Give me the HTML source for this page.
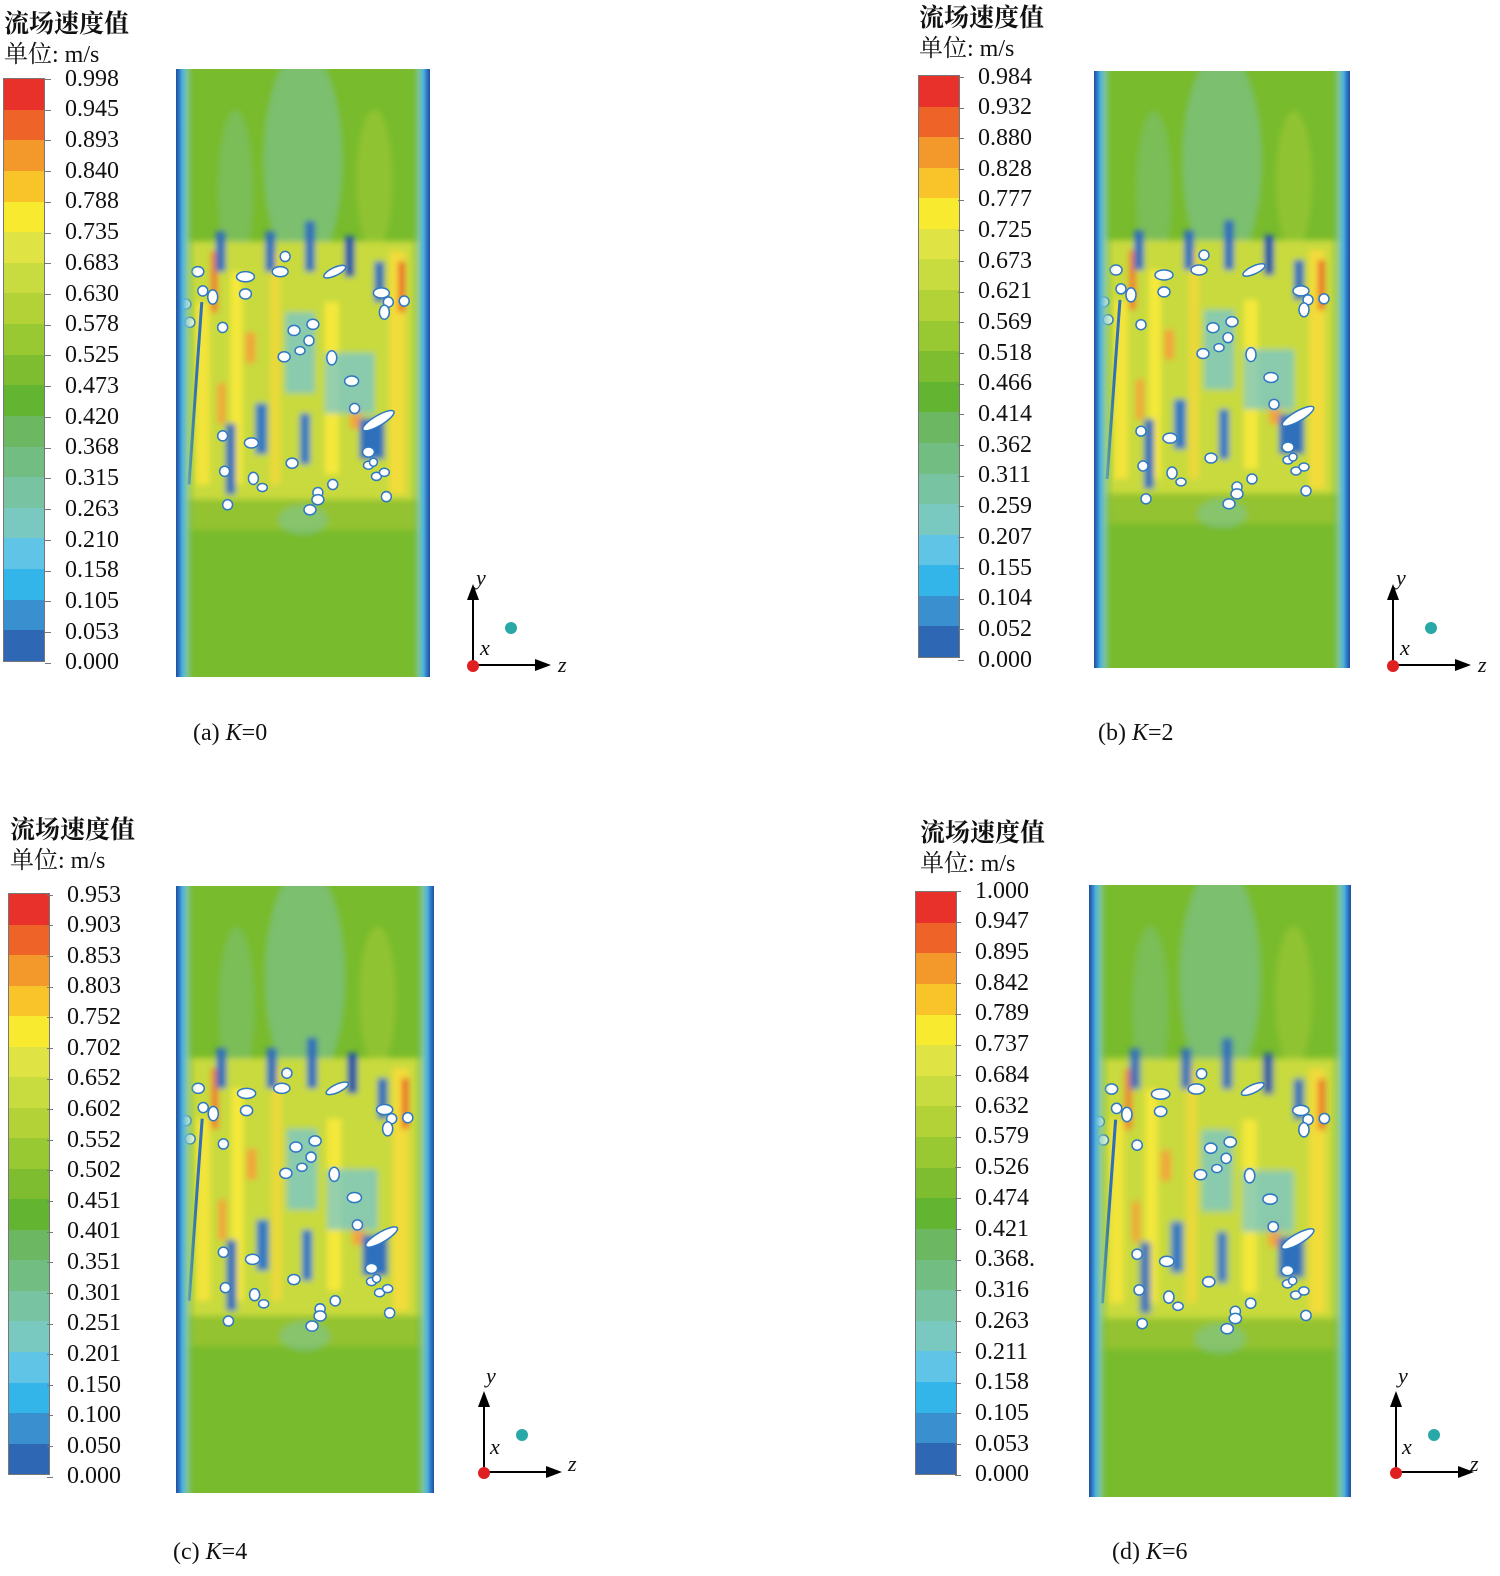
<!DOCTYPE html>
<html style="width:1500px;height:1576px;overflow:hidden;margin:0"><head><meta charset="utf-8"><style>
body{margin:0;width:1500px;height:1576px;background:#fff;position:relative;overflow:hidden;font-family:"Liberation Serif","Noto Serif CJK SC",serif;}
#wrap{position:absolute;left:0;top:0;width:1500px;height:1576px;overflow:hidden}
.t{position:absolute;font-family:"Liberation Serif","Noto Serif CJK SC",serif;color:#111;white-space:nowrap}
.t1{font-size:25px;font-weight:bold;font-family:"Noto Serif CJK SC","Noto Sans CJK SC",serif;}
.t2{font-size:24px;}
.cb{position:absolute;width:42px;display:flex;flex-direction:column;border:1px solid #777;box-sizing:border-box}
.cb div{flex:1}
.lab{position:absolute;font-size:24px;color:#111}
.lab div{position:relative}
.lab div:before{content:"";position:absolute;left:-20px;top:50%;width:6px;border-top:1px solid #777}
.cap{position:absolute;font-size:24px;color:#111;white-space:nowrap}
svg.f{position:absolute;display:block}
</style></head><body><div id="wrap">
<svg width="1" height="1" style="position:absolute;left:0;top:0">
<defs>
<linearGradient id="edge" x1="0" x2="1" y1="0" y2="0">
<stop offset="0" stop-color="#1f4e9e"/><stop offset="0.012" stop-color="#2f78c4"/><stop offset="0.025" stop-color="#4cb0e0"/><stop offset="0.045" stop-color="#7cc6c0" stop-opacity="0.7"/><stop offset="0.08" stop-color="#76b92c" stop-opacity="0"/>
<stop offset="0.92" stop-color="#76b92c" stop-opacity="0"/><stop offset="0.955" stop-color="#7cc6c0" stop-opacity="0.7"/><stop offset="0.975" stop-color="#4cb0e0"/><stop offset="0.988" stop-color="#2f78c4"/><stop offset="1" stop-color="#1f4e9e"/>
</linearGradient>
<filter id="bl"><feGaussianBlur stdDeviation="3"/></filter>
<symbol id="fld" viewBox="0 0 256 600" preserveAspectRatio="none">
<rect width="256" height="600" fill="#78bb2c"/>
<g filter="url(#bl)">
<ellipse cx="128" cy="90" rx="40" ry="110" fill="#7dc3a6" opacity="0.55"/>
<ellipse cx="60" cy="120" rx="18" ry="80" fill="#7dc3a6" opacity="0.35"/>
<ellipse cx="200" cy="110" rx="18" ry="70" fill="#a8cc3a" opacity="0.5"/>
<rect x="8" y="170" width="240" height="255" fill="#c8da3c"/>
<rect x="20" y="230" width="14" height="180" fill="#f2e43a"/>
<rect x="55" y="200" width="12" height="210" fill="#f5e83a"/>
<rect x="95" y="180" width="10" height="230" fill="#ecd93a"/>
<rect x="150" y="230" width="14" height="170" fill="#f5e83a"/>
<rect x="215" y="180" width="16" height="240" fill="#f2dc3a"/>
<rect x="35" y="180" width="7" height="60" fill="#ee7a30"/>
<rect x="224" y="190" width="7" height="50" fill="#ee6a2a"/>
<rect x="42" y="310" width="8" height="40" fill="#f2a53a"/>
<rect x="175" y="330" width="12" height="25" fill="#f2a53a"/>
<rect x="70" y="260" width="10" height="30" fill="#f2a53a"/>
<rect x="40" y="160" width="10" height="40" fill="#2f6fbb"/>
<rect x="90" y="160" width="10" height="40" fill="#2f6fbb"/>
<rect x="130" y="150" width="10" height="50" fill="#2f6fbb"/>
<rect x="170" y="165" width="10" height="40" fill="#1f55a8"/>
<rect x="200" y="190" width="10" height="40" fill="#2f6fbb"/>
<rect x="110" y="240" width="30" height="80" fill="#6dc4dc" opacity="0.7"/>
<rect x="150" y="280" width="50" height="60" fill="#6dc4dc" opacity="0.7"/>
<rect x="50" y="350" width="10" height="70" fill="#2f6fbb"/>
<rect x="80" y="330" width="12" height="50" fill="#2f78c4"/>
<rect x="125" y="340" width="10" height="50" fill="#2f78c4"/>
<rect x="185" y="345" width="25" height="40" fill="#2f6fbb"/>
<rect x="0" y="425" width="256" height="30" fill="#a5c833" opacity="0.6"/>
<ellipse cx="128" cy="445" rx="25" ry="15" fill="#7dc3a6" opacity="0.5"/>
</g>
<line x1="13" y1="410" x2="26" y2="230" stroke="#2f6fbb" stroke-width="3"/>
<g fill="#fff" stroke="#2f78c4" stroke-width="1.5">
<ellipse cx="22" cy="200" rx="6" ry="5"/><ellipse cx="27" cy="219" rx="5" ry="5"/><ellipse cx="37" cy="225" rx="5" ry="7"/>
<ellipse cx="10" cy="232" rx="5" ry="5"/><ellipse cx="14" cy="250" rx="5" ry="5"/><ellipse cx="47" cy="255" rx="5" ry="5"/>
<ellipse cx="70" cy="205" rx="9" ry="5"/><ellipse cx="70" cy="222" rx="6" ry="5"/><ellipse cx="105" cy="200" rx="8" ry="5"/><ellipse cx="110" cy="185" rx="5" ry="5"/>
<ellipse cx="160" cy="200" rx="12" ry="4" transform="rotate(-25 160 200)"/><ellipse cx="207" cy="221" rx="8" ry="5"/><ellipse cx="214" cy="230" rx="5" ry="5"/><ellipse cx="230" cy="229" rx="5" ry="5"/><ellipse cx="210" cy="240" rx="5" ry="7"/>
<ellipse cx="119" cy="258" rx="6" ry="5"/><ellipse cx="138" cy="252" rx="6" ry="5"/><ellipse cx="134" cy="268" rx="5" ry="5"/><ellipse cx="125" cy="278" rx="5" ry="4"/><ellipse cx="109" cy="284" rx="6" ry="5"/>
<ellipse cx="157" cy="285" rx="5" ry="7"/><ellipse cx="177" cy="308" rx="7" ry="5"/><ellipse cx="180" cy="335" rx="5" ry="5"/>
<ellipse cx="204" cy="347" rx="18" ry="5" transform="rotate(-30 204 347)"/>
<ellipse cx="47" cy="362" rx="5" ry="5"/><ellipse cx="76" cy="369" rx="7" ry="5"/><ellipse cx="117" cy="389" rx="6" ry="5"/><ellipse cx="49" cy="397" rx="5" ry="5"/>
<ellipse cx="78" cy="404" rx="5" ry="6"/><ellipse cx="87" cy="413" rx="5" ry="4"/><ellipse cx="143" cy="418" rx="5" ry="5"/><ellipse cx="158" cy="410" rx="5" ry="5"/>
<ellipse cx="194" cy="378" rx="6" ry="5"/><ellipse cx="194" cy="391" rx="5" ry="4"/><ellipse cx="202" cy="402" rx="5" ry="4"/><ellipse cx="210" cy="398" rx="5" ry="4"/><ellipse cx="199" cy="388" rx="4" ry="4"/>
<ellipse cx="143" cy="425" rx="6" ry="5"/><ellipse cx="212" cy="422" rx="5" ry="5"/><ellipse cx="52" cy="430" rx="5" ry="5"/><ellipse cx="135" cy="435" rx="6" ry="5"/>
</g>
<rect width="256" height="600" fill="url(#edge)"/>
</symbol>
<symbol id="ax" viewBox="0 0 110 100">
<line x1="10" y1="85" x2="10" y2="15" stroke="#000" stroke-width="2"/><polygon points="10,4 4,20 16,20" fill="#000"/>
<line x1="10" y1="85" x2="78" y2="85" stroke="#000" stroke-width="2"/><polygon points="88,85 72,79 72,91" fill="#000"/>
<circle cx="10" cy="86" r="6" fill="#e02020"/><circle cx="48" cy="48" r="6" fill="#2aa8a8"/>
</symbol>
</defs></svg>

<!-- Panel a -->
<div class="t t1" style="left:4px;top:4px">流场速度值</div>
<div class="t t2" style="left:4px;top:34px">单位: m/s</div>
<div class="cb" style="left:3px;top:78px;height:584px"><div style="background:#e8312a"></div><div style="background:#ee6328"></div><div style="background:#f3992c"></div><div style="background:#f9c42a"></div><div style="background:#f8ea2e"></div><div style="background:#e0e344"></div><div style="background:#c8dc40"></div><div style="background:#b2d238"></div><div style="background:#98c832"></div><div style="background:#7dbd2f"></div><div style="background:#63b531"></div><div style="background:#6cb862"></div><div style="background:#72be82"></div><div style="background:#78c4a2"></div><div style="background:#7ac9c0"></div><div style="background:#5fc4e6"></div><div style="background:#33b5ea"></div><div style="background:#3a90cf"></div><div style="background:#2e68b4"></div></div>
<div class="lab" style="left:65px;top:63.5px;line-height:30.74px"><div>0.998</div><div>0.945</div><div>0.893</div><div>0.840</div><div>0.788</div><div>0.735</div><div>0.683</div><div>0.630</div><div>0.578</div><div>0.525</div><div>0.473</div><div>0.420</div><div>0.368</div><div>0.315</div><div>0.263</div><div>0.210</div><div>0.158</div><div>0.105</div><div>0.053</div><div>0.000</div></div>
<svg class="f" style="left:176px;top:69px" width="254" height="608"><use href="#fld" width="254" height="608"/></svg>
<svg class="f" style="left:463px;top:580px" width="110" height="100"><use href="#ax" width="110" height="100"/></svg>
<div class="t" style="left:476px;top:565px;font-size:22px;font-style:italic">y</div>
<div class="t" style="left:480px;top:635px;font-size:22px;font-style:italic">x</div>
<div class="t" style="left:558px;top:652px;font-size:22px;font-style:italic">z</div>
<div class="cap" style="left:193px;top:720px">(a) <i>K</i>=0</div>

<!-- Panel b -->
<div class="t t1" style="left:919px;top:-2px">流场速度值</div>
<div class="t t2" style="left:919px;top:28px">单位: m/s</div>
<div class="cb" style="left:918px;top:75px;height:583px"><div style="background:#e8312a"></div><div style="background:#ee6328"></div><div style="background:#f3992c"></div><div style="background:#f9c42a"></div><div style="background:#f8ea2e"></div><div style="background:#e0e344"></div><div style="background:#c8dc40"></div><div style="background:#b2d238"></div><div style="background:#98c832"></div><div style="background:#7dbd2f"></div><div style="background:#63b531"></div><div style="background:#6cb862"></div><div style="background:#72be82"></div><div style="background:#78c4a2"></div><div style="background:#7ac9c0"></div><div style="background:#5fc4e6"></div><div style="background:#33b5ea"></div><div style="background:#3a90cf"></div><div style="background:#2e68b4"></div></div>
<div class="lab" style="left:978px;top:61.5px;line-height:30.68px"><div>0.984</div><div>0.932</div><div>0.880</div><div>0.828</div><div>0.777</div><div>0.725</div><div>0.673</div><div>0.621</div><div>0.569</div><div>0.518</div><div>0.466</div><div>0.414</div><div>0.362</div><div>0.311</div><div>0.259</div><div>0.207</div><div>0.155</div><div>0.104</div><div>0.052</div><div>0.000</div></div>
<svg class="f" style="left:1094px;top:71px" width="256" height="597"><use href="#fld" width="256" height="597"/></svg>
<svg class="f" style="left:1383px;top:580px" width="110" height="100"><use href="#ax" width="110" height="100"/></svg>
<div class="t" style="left:1396px;top:565px;font-size:22px;font-style:italic">y</div>
<div class="t" style="left:1400px;top:635px;font-size:22px;font-style:italic">x</div>
<div class="t" style="left:1478px;top:652px;font-size:22px;font-style:italic">z</div>
<div class="cap" style="left:1098px;top:720px">(b) <i>K</i>=2</div>

<!-- Panel c -->
<div class="t t1" style="left:10px;top:810px">流场速度值</div>
<div class="t t2" style="left:10px;top:840px">单位: m/s</div>
<div class="cb" style="left:8px;top:893px;height:582px"><div style="background:#e8312a"></div><div style="background:#ee6328"></div><div style="background:#f3992c"></div><div style="background:#f9c42a"></div><div style="background:#f8ea2e"></div><div style="background:#e0e344"></div><div style="background:#c8dc40"></div><div style="background:#b2d238"></div><div style="background:#98c832"></div><div style="background:#7dbd2f"></div><div style="background:#63b531"></div><div style="background:#6cb862"></div><div style="background:#72be82"></div><div style="background:#78c4a2"></div><div style="background:#7ac9c0"></div><div style="background:#5fc4e6"></div><div style="background:#33b5ea"></div><div style="background:#3a90cf"></div><div style="background:#2e68b4"></div></div>
<div class="lab" style="left:67px;top:879.5px;line-height:30.63px"><div>0.953</div><div>0.903</div><div>0.853</div><div>0.803</div><div>0.752</div><div>0.702</div><div>0.652</div><div>0.602</div><div>0.552</div><div>0.502</div><div>0.451</div><div>0.401</div><div>0.351</div><div>0.301</div><div>0.251</div><div>0.201</div><div>0.150</div><div>0.100</div><div>0.050</div><div>0.000</div></div>
<svg class="f" style="left:176px;top:886px" width="258" height="607"><use href="#fld" width="258" height="607"/></svg>
<svg class="f" style="left:474px;top:1387px" width="110" height="100"><use href="#ax" width="110" height="100"/></svg>
<div class="t" style="left:486px;top:1363px;font-size:22px;font-style:italic">y</div>
<div class="t" style="left:490px;top:1434px;font-size:22px;font-style:italic">x</div>
<div class="t" style="left:568px;top:1451px;font-size:22px;font-style:italic">z</div>
<div class="cap" style="left:173px;top:1539px">(c) <i>K</i>=4</div>

<!-- Panel d -->
<div class="t t1" style="left:920px;top:813px">流场速度值</div>
<div class="t t2" style="left:920px;top:843px">单位: m/s</div>
<div class="cb" style="left:915px;top:891px;height:584px"><div style="background:#e8312a"></div><div style="background:#ee6328"></div><div style="background:#f3992c"></div><div style="background:#f9c42a"></div><div style="background:#f8ea2e"></div><div style="background:#e0e344"></div><div style="background:#c8dc40"></div><div style="background:#b2d238"></div><div style="background:#98c832"></div><div style="background:#7dbd2f"></div><div style="background:#63b531"></div><div style="background:#6cb862"></div><div style="background:#72be82"></div><div style="background:#78c4a2"></div><div style="background:#7ac9c0"></div><div style="background:#5fc4e6"></div><div style="background:#33b5ea"></div><div style="background:#3a90cf"></div><div style="background:#2e68b4"></div></div>
<div class="lab" style="left:975px;top:875.5px;line-height:30.74px"><div>1.000</div><div>0.947</div><div>0.895</div><div>0.842</div><div>0.789</div><div>0.737</div><div>0.684</div><div>0.632</div><div>0.579</div><div>0.526</div><div>0.474</div><div>0.421</div><div>0.368.</div><div>0.316</div><div>0.263</div><div>0.211</div><div>0.158</div><div>0.105</div><div>0.053</div><div>0.000</div></div>
<svg class="f" style="left:1089px;top:885px" width="262" height="612"><use href="#fld" width="262" height="612"/></svg>
<svg class="f" style="left:1386px;top:1387px" width="110" height="100"><use href="#ax" width="110" height="100"/></svg>
<div class="t" style="left:1398px;top:1363px;font-size:22px;font-style:italic">y</div>
<div class="t" style="left:1402px;top:1434px;font-size:22px;font-style:italic">x</div>
<div class="t" style="left:1470px;top:1451px;font-size:22px;font-style:italic">z</div>
<div class="cap" style="left:1112px;top:1539px">(d) <i>K</i>=6</div>
</div></body></html>
